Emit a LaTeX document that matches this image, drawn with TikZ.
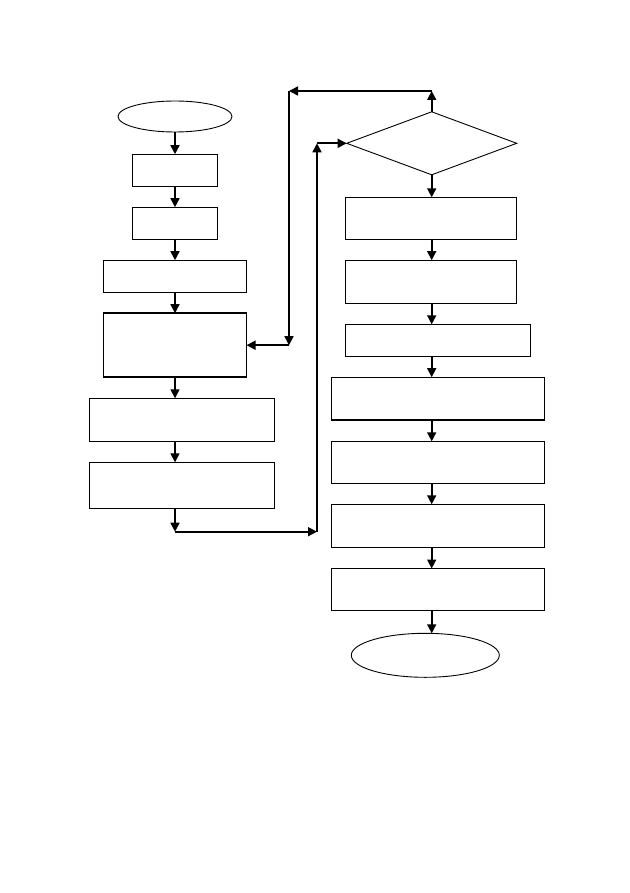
\documentclass[tikz,border=0pt]{standalone}
\usetikzlibrary{shapes.geometric,arrows.meta}
\begin{document}
\begin{tikzpicture}[x=1pt,y=-1pt,
  box/.style={draw,line width=0.9pt,inner sep=0pt,outer sep=0pt},
  thickbox/.style={draw,line width=1.6pt,inner sep=0pt,outer sep=0pt},
  term/.style={ellipse,draw,line width=0.9pt,inner sep=0pt,outer sep=0pt},
  decide/.style={diamond,draw,line width=0.9pt,inner sep=0pt,outer sep=0pt},
  arr/.style={line width=1.6pt,-{Triangle[length=9pt,width=9pt]}},
  seg/.style={line width=1.6pt}]
\useasboundingbox (0,0) rectangle (629,893);
\fill[white] (0,0) rectangle (629,893);
% left column
\node[term,minimum width=114pt,minimum height=31pt] (start) at (175,116.5) {};
\node[box,minimum width=85pt,minimum height=32pt] (b1) at (175,170.2) {};
\node[box,minimum width=85pt,minimum height=32pt] (b2) at (175,223.2) {};
\node[box,minimum width=143pt,minimum height=32pt] (b3) at (175,276.2) {};
\node[thickbox,minimum width=143pt,minimum height=64pt] (b4) at (175,345.2) {};
\node[box,minimum width=185pt,minimum height=43pt] (b5) at (181.8,419.8) {};
\node[box,minimum width=185pt,minimum height=46pt] (b6) at (181.8,485.3) {};
% right column
\node[decide,minimum width=170pt,minimum height=63pt] (dia) at (431.7,143.3) {};
\node[box,minimum width=171pt,minimum height=42pt] (r1) at (431,218.3) {};
\node[box,minimum width=171pt,minimum height=43pt] (r2) at (431,281.7) {};
\node[box,minimum width=185pt,minimum height=32pt] (r3) at (437.8,340.3) {};
\node[box,minimum width=213pt,minimum height=43pt] (r4) at (437.8,398.7) {};
\node[box,minimum width=213pt,minimum height=42pt] (r5) at (437.8,462.3) {};
\node[box,minimum width=213pt,minimum height=43pt] (r6) at (437.8,525.8) {};
\node[box,minimum width=213pt,minimum height=42pt] (r7) at (437.8,589.5) {};
\node[term,minimum width=148pt,minimum height=44pt] (end) at (425.3,655.3) {};
% thicker bottom edges
\draw[line width=1.6pt] (r4.south west) -- (r4.south east);
\draw[line width=1.6pt] (r7.south west) -- (r7.south east);
\draw[line width=1.6pt] (b3.south west) -- (b3.north west);
% corner coordinates
\coordinate (c1) at (175,531.7);
\coordinate (c2) at (317,531.7);
\coordinate (c3) at (317,143.3);
\coordinate (d1) at (431.7,91);
\coordinate (d2) at (289,91);
\coordinate (d3) at (289,345.2);
% left column arrows
\draw[arr] (start.south) -- (b1.north);
\draw[arr] (b1.south) -- (b2.north);
\draw[arr] (b2.south) -- (b3.north);
\draw[arr] (b3.south) -- (b4.north);
\draw[arr] (b4.south) -- (b4.south |- b5.north);
\draw[arr] (b5.south -| b4.south) -- (b4.south |- b6.north);
\draw[arr] (b6.south -| c1) -- (c1);
\draw[arr] (c1) -- (c2);
\draw[arr] (c2) -- (c3);
\draw[arr] (c3) -- (dia.west);
% loop back
\draw[arr] (dia.north) -- (d1);
\draw[arr] (d1) -- (d2);
\draw[arr] (d2) -- (d3);
\draw[arr] (d3) -- (b4.east);
% right column arrows
\draw[arr] (dia.south) -- (dia.south |- r1.north);
\draw[arr] (r1.south -| dia.south) -- (dia.south |- r2.north);
\draw[arr] (r2.south -| dia.south) -- (dia.south |- r3.north);
\draw[arr] (r3.south -| dia.south) -- (dia.south |- r4.north);
\draw[arr] (r4.south -| dia.south) -- (dia.south |- r5.north);
\draw[arr] (r5.south -| dia.south) -- (dia.south |- r6.north);
\draw[arr] (r6.south -| dia.south) -- (dia.south |- r7.north);
\draw[arr] (r7.south -| dia.south) -- (dia.south |- end.north);
\end{tikzpicture}
\end{document}
